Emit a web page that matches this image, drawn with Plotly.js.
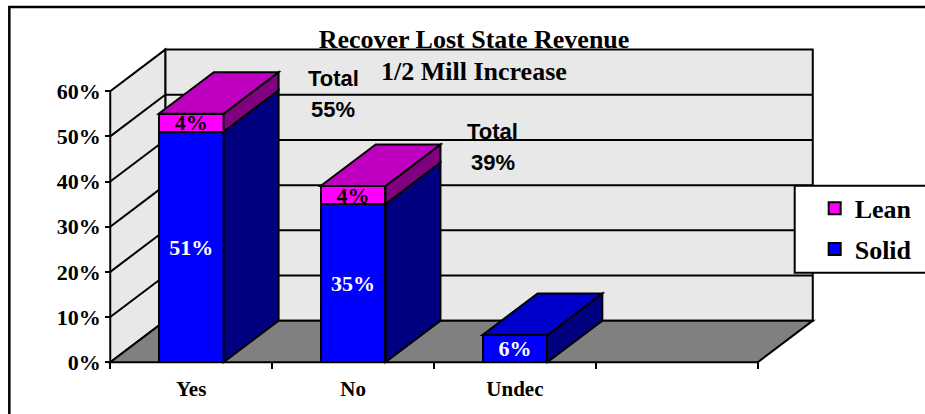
<!DOCTYPE html>
<html>
<head>
<meta charset="utf-8">
<script src="https://cdn.plot.ly/plotly-3.0.1.min.js"></script>
<style>
  html, body { margin: 0; padding: 0; background: #ffffff; }
  #chart { width: 925px; height: 414px; }
</style>
</head>
<body>
<div id="chart"></div>
<script>
// ---- data ----
const categories = ['Yes', 'No', 'Undec'];
const solid = [51, 35, 6];       // % Solid
const lean  = [4, 4, 0];         // % Lean
const yTicks = [0, 10, 20, 30, 40, 50, 60];
const chartTitle = 'Recover Lost State Revenue';
const subTitle = '1/2 Mill Increase';

// ---- styling / geometry ----
const SERIF = 'Liberation Serif, Times New Roman, serif';
const SANS = 'Liberation Sans, Arial, sans-serif';
const DX = 0.34;   // depth offset in category units
const DY = 9.2;    // depth offset in percent units
const BW = 0.4;    // bar width
const NSLOT = 4;   // category slots on the floor
const YMAX = 60;
const LINE = {color: '#000000', width: 2};

const xs = categories.map((c, i) => i);
const totals = solid.map((v, i) => v + lean[i]);

const shapes = [];
function poly(pts, fill, layer) {
  const d = 'M' + pts.map(p => p[0] + ',' + p[1]).join('L') + 'Z';
  shapes.push({type: 'path', xref: 'x', yref: 'y', path: d, fillcolor: fill, line: LINE, layer: layer});
}
function seg(x0, y0, x1, y1, layer) {
  shapes.push({type: 'line', xref: 'x', yref: 'y', x0: x0, y0: y0, x1: x1, y1: y1, line: LINE, layer: layer});
}
const xL = -0.5, xR = NSLOT - 0.5;
// walls and floor
poly([[xL + DX, DY], [xR + DX, DY], [xR + DX, YMAX + DY], [xL + DX, YMAX + DY]], '#e8e8e8', 'below');
poly([[xL, 0], [xL, YMAX], [xL + DX, YMAX + DY], [xL + DX, DY]], '#e8e8e8', 'below');
poly([[xL, 0], [xR, 0], [xR + DX, DY], [xL + DX, DY]], '#808080', 'below');
// gridlines on walls
yTicks.filter(v => v > 0 && v < YMAX).forEach(v => {
  seg(xL + DX, v + DY, xR + DX, v + DY, 'below');
  seg(xL, v, xL + DX, v + DY, 'below');
});
// 3D faces of bars (side and top)
xs.forEach((x, i) => {
  const l = x - BW / 2, r = x + BW / 2;
  const s = solid[i], t = totals[i];
  poly([[r, 0], [r + DX, DY], [r + DX, s + DY], [r, s]], '#000080', 'above');
  if (lean[i] > 0) {
    poly([[r, s], [r + DX, s + DY], [r + DX, t + DY], [r, t]], '#800080', 'above');
  }
  poly([[l, t], [r, t], [r + DX, t + DY], [l + DX, t + DY]], lean[i] > 0 ? '#C000C0' : '#0000CC', 'above');
});

// plot area geometry (pixels)
const W = 925, H = 414;
const PXX = 162, PXY = 4.52;
const xRange = [xL - 0.02, xR + DX + 0.02];
const yRange = [-0.4, YMAX + DY + 0.8];
const mL = 110 - 0.02 * PXX;
const plotW = (xRange[1] - xRange[0]) * PXX;
const plotH = (yRange[1] - yRange[0]) * PXY;
const mB = H - (362.5 + (-yRange[0]) * PXY);
const mT = H - mB - plotH;
const mR = W - mL - plotW;
const px2paperX = p => (p - mL) / plotW;
const py2paperY = p => (H - mB - p) / plotH;

// outer frame and legend box
shapes.push({type: 'rect', xref: 'paper', yref: 'paper',
  x0: px2paperX(9), x1: px2paperX(1200), y0: py2paperY(800), y1: py2paperY(7),
  line: {color: '#000000', width: 2.5}, fillcolor: 'rgba(0,0,0,0)', layer: 'above'});
shapes.push({type: 'rect', xref: 'paper', yref: 'paper',
  x0: px2paperX(795), x1: px2paperX(1000), y0: py2paperY(273), y1: py2paperY(186),
  line: LINE, fillcolor: '#ffffff', layer: 'above'});

const traces = [
  {
    type: 'bar', name: 'Solid', legendgroup: 'solid', legendrank: 2, x: xs, y: solid, width: BW,
    marker: {color: '#0000FF', line: LINE},
    text: solid.map(v => v + '%'), textposition: 'inside', textangle: 0,
    constraintext: 'none', insidetextanchor: 'middle',
    insidetextfont: {family: SERIF, size: 22, color: '#ffffff', weight: 'bold'},
    hoverinfo: 'skip'
  },
  {
    type: 'bar', name: 'Lean', legendgroup: 'lean', legendrank: 1, x: xs, y: lean, width: BW,
    marker: {color: '#FF00FF', line: LINE},
    text: lean.map(v => v > 0 ? v + '%' : ''), textposition: 'inside', textangle: 0,
    constraintext: 'none', insidetextanchor: 'middle',
    insidetextfont: {family: SERIF, size: 22, color: '#000000', weight: 'bold'},
    hoverinfo: 'skip'
  }
];

const annotations = [
  {xref: 'paper', yref: 'paper', x: px2paperX(474), y: py2paperY(72), text: subTitle,
   showarrow: false, xanchor: 'center', yanchor: 'middle',
   font: {family: SERIF, size: 26, color: '#000000', weight: 'bold'}}
];
const totalPos = [[0.877, 62.7, 56.0], [1.864, 51.0, 44.3]];
totals.forEach((t, i) => {
  if (lean[i] > 0) {
    const p = totalPos[i];
    annotations.push({xref: 'x', yref: 'y', x: p[0], y: p[1], text: 'Total', showarrow: false,
      font: {family: SANS, size: 22, color: '#000000', weight: 'bold'}});
    annotations.push({xref: 'x', yref: 'y', x: p[0], y: p[2], text: t + '%', showarrow: false,
      font: {family: SANS, size: 22, color: '#000000', weight: 'bold'}});
  }
});

const layout = {
  width: W, height: H,
  margin: {l: mL, r: mR, t: mT, b: mB, pad: 0, autoexpand: false},
  paper_bgcolor: '#ffffff', plot_bgcolor: 'rgba(0,0,0,0)',
  barmode: 'stack',
  showlegend: true,
  title: {text: chartTitle, x: 474 / W, xanchor: 'center', y: 1 - 39 / H, yanchor: 'middle',
          font: {family: SERIF, size: 26, color: '#000000', weight: 'bold'}},
  xaxis: {
    type: 'linear', range: xRange, fixedrange: true,
    anchor: 'free', position: (-yRange[0]) / (yRange[1] - yRange[0]),
    showline: false, showgrid: false, zeroline: false,
    tickmode: 'array', tickvals: xs, ticktext: categories, ticks: '',
    ticklabelstandoff: 12,
    tickfont: {family: SERIF, size: 21, color: '#000000', weight: 'bold'},
    minor: {tickmode: 'array', tickvals: Array.from({length: NSLOT + 1}, (_, k) => k - 0.5),
            ticks: 'outside', ticklen: 6, tickwidth: 2, tickcolor: '#000000', showgrid: false}
  },
  yaxis: {
    range: yRange, fixedrange: true,
    anchor: 'free', position: (110 - mL) / plotW,
    showline: false, showgrid: false, zeroline: false,
    tickmode: 'array', tickvals: yTicks, ticktext: yTicks.map(v => v + '%'),
    ticks: 'outside', ticklen: 5, tickwidth: 2, tickcolor: '#000000',
    tickfont: {family: SERIF, size: 22, color: '#000000', weight: 'bold'}
  },
  legend: {
    x: px2paperX(815), y: py2paperY(185), xanchor: 'left', yanchor: 'top',
    traceorder: 'grouped', tracegroupgap: 4,
    bgcolor: 'rgba(0,0,0,0)', borderwidth: 0,
    font: {family: SERIF, size: 26, color: '#000000', weight: 'bold'}
  },
  shapes: shapes,
  annotations: annotations
};

Plotly.newPlot('chart', traces, layout, {staticPlot: true, displayModeBar: false});
</script>
</body>
</html>
